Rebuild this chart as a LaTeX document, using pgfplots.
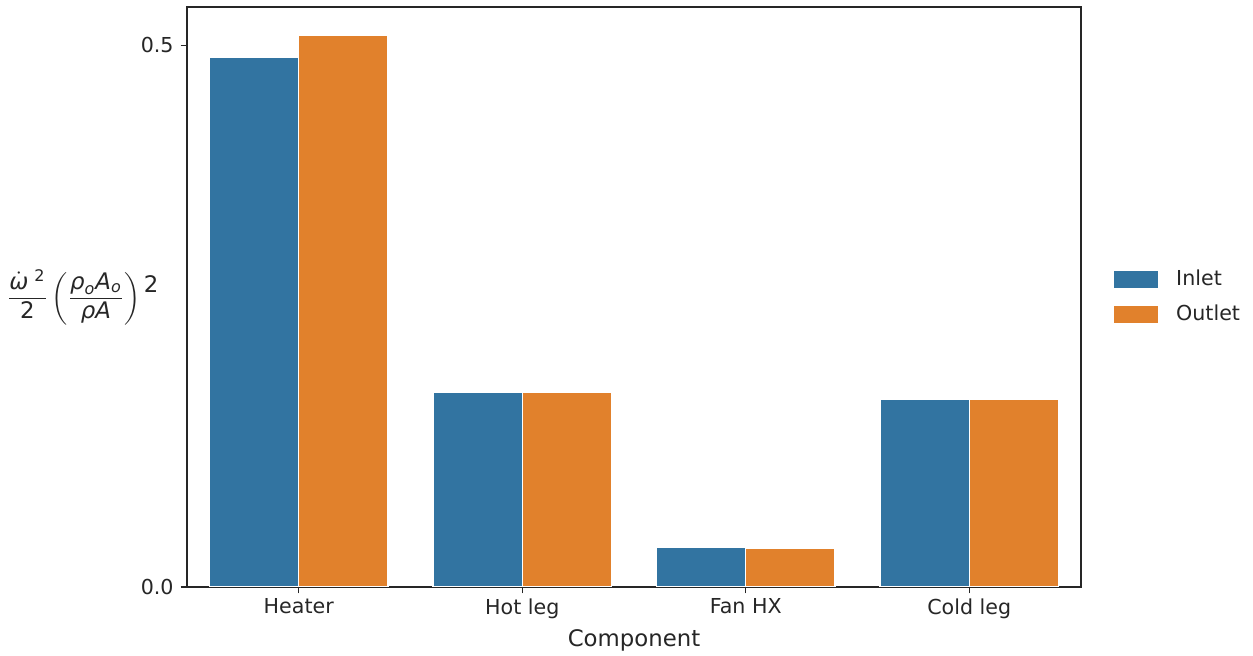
\documentclass[border=0pt]{standalone}
\usepackage{fontspec}
\usepackage{amsmath}
\setmainfont{DejaVu Sans}
\usepackage{pgfplots}
\pgfplotsset{compat=1.18}

\definecolor{inletblue}{HTML}{3274A1}
\definecolor{outletorange}{HTML}{E1812C}
\definecolor{spine}{HTML}{262626}

% dynamic pressure term per component (inlet/outlet)
\pgfplotstableread{
x  inlet   outlet
0  0.4889  0.5089
1  0.1801  0.1801
2  0.0367  0.0355
3  0.1731  0.1731
}\pressuredata

\newcommand{\tit}[1]{\text{\itshape #1}}

\begin{document}
\begin{tikzpicture}
\useasboundingbox (-93.5pt,-34.5pt) rectangle (533pt,293.5pt);
\begin{axis}[
  scale only axis,
  width=447pt, height=290pt,
  xmin=-0.5, xmax=3.5,
  ymin=0, ymax=0.5354,
  xtick={0,1,2,3},
  xticklabels={Heater, Hot leg, Fan HX, Cold leg},
  ytick={0,0.5},
  yticklabel style={/pgf/number format/.cd, fixed, fixed zerofill, precision=1},
  /pgf/number format/assume math mode=true,
  tick align=outside,
  xtick pos=left, ytick pos=left,
  major tick length=3.2pt,
  every tick/.style={spine, line width=0.65pt},
  axis line style={spine, line width=1.2pt},
  tick label style={font=\fontsize{10.3}{12}\selectfont, text=spine},
  xticklabel style={yshift=1pt},
  xlabel={Component},
  xlabel style={font=\fontsize{11.4}{13}\selectfont, text=spine, yshift=1.5pt},
  ylabel={$\displaystyle\frac{\dot{\tit{ω}}\;^{\text{\fontsize{8}{9}\selectfont 2}}}{\text{2}}\left(\frac{\tit{ρ}_{\tit{o}}\tit{A}_{\tit{o}}}{\tit{ρ}\tit{A}}\right)\raisebox{5.5pt}{2}$},
  every axis y label/.style={at={(axis description cs:-0.024,0.5)}, anchor=east, font=\fontsize{11.4}{13}\selectfont, text=spine},
  ybar=0pt,
  bar width=0.4,
  legend style={at={(1.03,0.5)}, anchor=west, draw=none, fill=none,
    font=\fontsize{10.3}{12}\selectfont, text=spine, row sep=4pt},
  legend image code/.code={\fill[#1, draw=none] (-1pt,-4.3pt) rectangle (21pt,4.3pt);},
  legend cell align=left,
]
\addplot[fill=inletblue, draw=white, line width=0.7pt] table[x=x, y=inlet] {\pressuredata};
\addlegendentry{\hspace{7pt}Inlet}
\addplot[fill=outletorange, draw=white, line width=0.7pt] table[x=x, y=outlet] {\pressuredata};
\addlegendentry{\hspace{7pt}Outlet}
\end{axis}
\end{tikzpicture}
\end{document}
